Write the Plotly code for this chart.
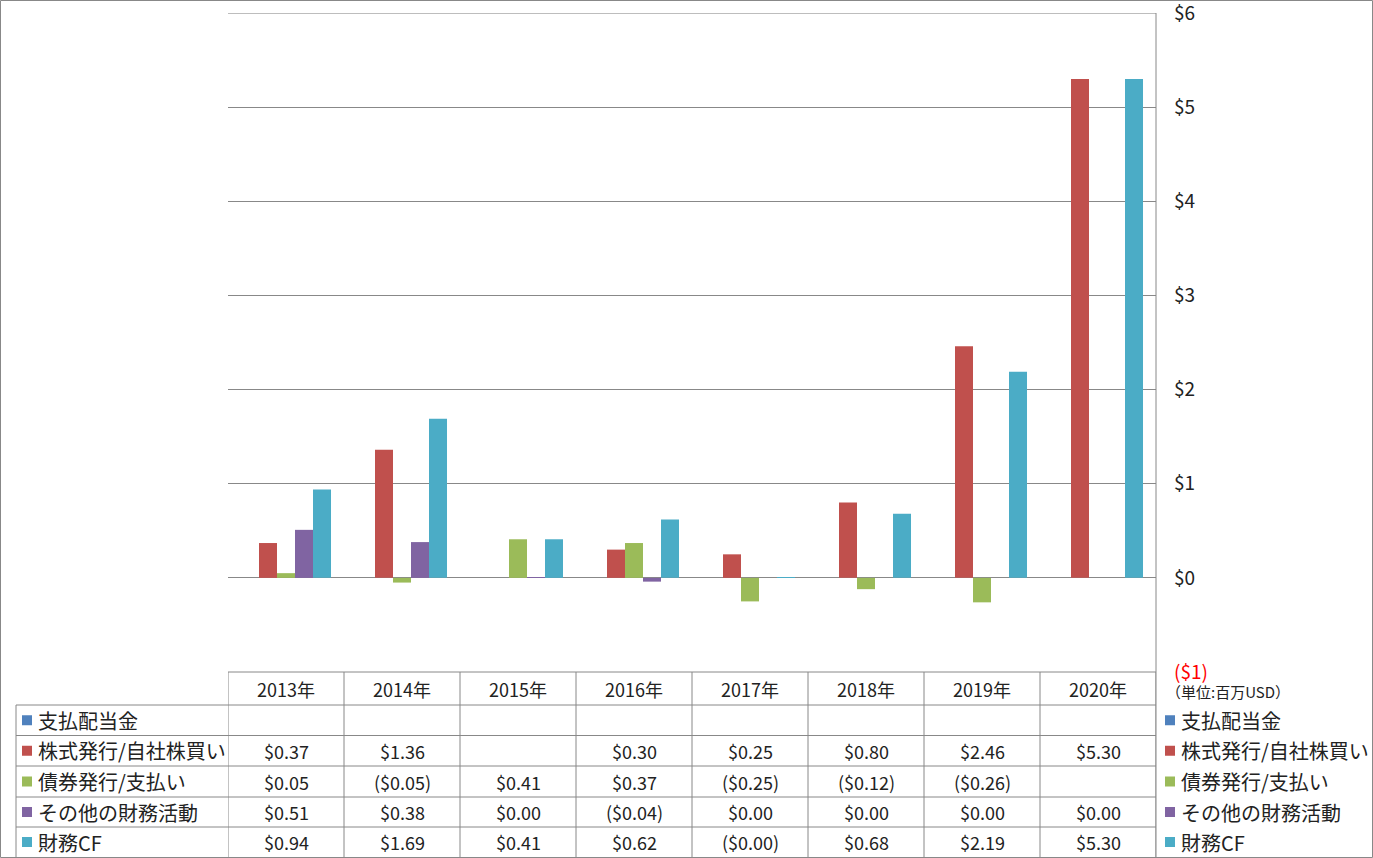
import plotly.graph_objects as go

W, H = 1373, 858

categories = ["2013年", "2014年", "2015年", "2016年", "2017年", "2018年", "2019年", "2020年"]
series_names = ["支払配当金", "株式発行/自社株買い", "債券発行/支払い", "その他の財務活動", "財務CF"]
colors = ["#4F81BD", "#C0504D", "#9BBB59", "#8064A2", "#4BACC6"]

dividends = [None, None, None, None, None, None, None, None]
stock_issue = [0.37, 1.36, None, 0.30, 0.25, 0.80, 2.46, 5.30]
debt_issue = [0.05, -0.05, 0.41, 0.37, -0.25, -0.12, -0.26, None]
other_fin = [0.51, 0.38, 0.004, -0.04, 0.0, 0.0, 0.0, 0.0]
financing_cf = [0.94, 1.69, 0.41, 0.62, -0.001, 0.68, 2.19, 5.30]
series_values = [dividends, stock_issue, debt_issue, other_fin, financing_cf]

y_ticks = [-1, 0, 1, 2, 3, 4, 5, 6]
unit_label = "（単位:百万USD）"

FONT = "Noto Sans CJK JP, Noto Sans, sans-serif"
GRID = "#888888"
TXT = "#222222"


def px(x):
    return x / W


def py(y):
    return 1 - y / H


def fmt(v):
    if v is None:
        return ""
    if v < 0:
        return "(${:.2f})".format(abs(v))
    return "${:.2f}".format(v)


def tick_text(v):
    if v < 0:
        return "<span style='color:#FF0000'>(${})</span>".format(abs(v))
    return "${}".format(v)


fig = go.Figure()
for name, vals, col in zip(series_names, series_values, colors):
    fig.add_trace(go.Bar(x=categories, y=vals, name=name, marker=dict(color=col, line=dict(width=0)),
                         showlegend=False))

plot_left, plot_right, plot_top, plot_bottom = 228, 1156, 13, 672

fig.update_layout(
    width=W, height=H,
    margin=dict(l=0, r=0, t=0, b=0, autoexpand=False),
    paper_bgcolor="white", plot_bgcolor="white",
    barmode="group", bargap=0.224, bargroupgap=0,
    font=dict(family=FONT, color=TXT, size=18),
    xaxis=dict(domain=[px(plot_left), px(plot_right)], range=[-0.5, len(categories) - 0.5],
               showticklabels=False, showgrid=False, zeroline=False, showline=False, fixedrange=True),
    yaxis=dict(domain=[py(plot_bottom), py(plot_top)], range=[-1, 6.0005], side="right",
               tickvals=y_ticks, ticktext=[tick_text(v) for v in y_ticks],
               showgrid=True, gridcolor=GRID, gridwidth=1, zeroline=True, zerolinecolor=GRID,
               zerolinewidth=1, showline=False, ticks="", ticklabelstandoff=17,
               ticklabeloverflow="allow",
               tickfont=dict(size=19, family=FONT, color=TXT), fixedrange=True),
)

shapes = []
# outer frame
shapes.append(dict(type="rect", xref="paper", yref="paper", x0=px(0.5), x1=px(W - 0.5), y0=py(H - 0.5), y1=py(0.5),
                   line=dict(color=GRID, width=1)))
# right axis line
shapes.append(dict(type="line", xref="paper", yref="paper", x0=px(plot_right), x1=px(plot_right),
                   y0=py(plot_top), y1=py(H - 1), line=dict(color=GRID, width=1)))
# top gridline ($6)
shapes.append(dict(type="line", xref="paper", yref="y", x0=px(plot_left), x1=px(plot_right),
                   y0=y_ticks[-1], y1=y_ticks[-1], line=dict(color=GRID, width=1)))

# data table
header_top, header_bottom = 672, 705
row_edges = [705, 735.5, 766, 797, 827, 857]
table_left = 16
shapes.append(dict(type="line", xref="paper", yref="paper", x0=px(plot_left), x1=px(plot_right),
                   y0=py(header_top), y1=py(header_top), line=dict(color=GRID, width=1)))
for ye in row_edges[:-1]:
    shapes.append(dict(type="line", xref="paper", yref="paper", x0=px(table_left), x1=px(plot_right),
                       y0=py(ye), y1=py(ye), line=dict(color=GRID, width=1)))
shapes.append(dict(type="line", xref="paper", yref="paper", x0=px(table_left), x1=px(table_left),
                   y0=py(row_edges[0]), y1=py(row_edges[-1]), line=dict(color=GRID, width=1)))
for k in range(len(categories) + 1):
    shapes.append(dict(type="line", xref="x", yref="paper", x0=k - 0.5, x1=k - 0.5,
                       y0=py(header_top), y1=py(row_edges[-1]), line=dict(color=GRID, width=1)))

annotations = []
header_c = (header_top + header_bottom) / 2
for c in categories:
    annotations.append(dict(x=c, y=py(header_c), xref="x", yref="paper", text=c, showarrow=False,
                            xanchor="center", yanchor="middle", font=dict(size=18)))

sq = 10
for i, (name, vals, col) in enumerate(zip(series_names, series_values, colors)):
    yc = (row_edges[i] + row_edges[i + 1]) / 2
    shapes.append(dict(type="rect", xref="paper", yref="paper", x0=px(22), x1=px(22 + sq),
                       y0=py(yc + sq / 2), y1=py(yc - sq / 2), fillcolor=col, line=dict(width=0)))
    annotations.append(dict(x=px(36), y=py(yc), xref="paper", yref="paper", text=name, showarrow=False,
                            xanchor="left", yanchor="middle", font=dict(size=20)))
    for c, v in zip(categories, vals):
        annotations.append(dict(x=c, y=py(yc), xref="x", yref="paper", text=fmt(v), showarrow=False,
                                xanchor="center", yanchor="middle", font=dict(size=18)))
    shapes.append(dict(type="rect", xref="paper", yref="paper", x0=px(1165), x1=px(1165 + sq),
                       y0=py(yc + sq / 2), y1=py(yc - sq / 2), fillcolor=col, line=dict(width=0)))
    annotations.append(dict(x=px(1179), y=py(yc), xref="paper", yref="paper", text=name, showarrow=False,
                            xanchor="left", yanchor="middle", font=dict(size=20)))

annotations.append(dict(x=px(1164), y=py(691), xref="paper", yref="paper", text=unit_label, showarrow=False,
                        xanchor="left", yanchor="middle", font=dict(size=15)))

fig.update_layout(shapes=shapes, annotations=annotations)
fig.write_html("out.html", config={"displayModeBar": False},
               post_script="document.body.style.margin='0';document.body.style.padding='0';")
